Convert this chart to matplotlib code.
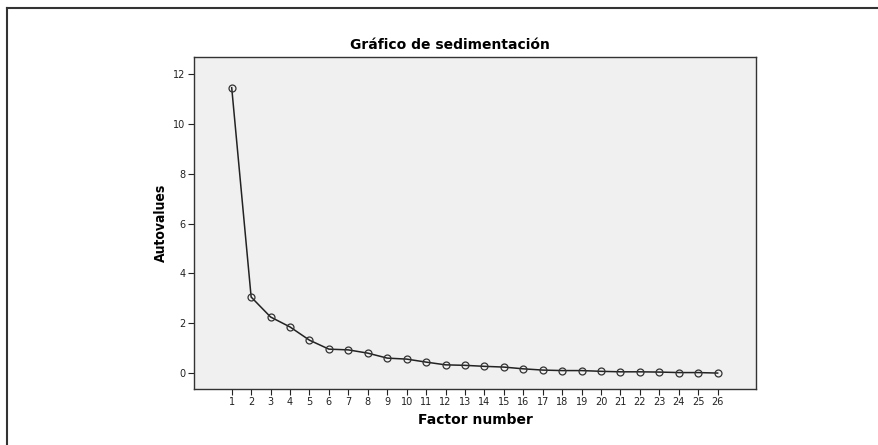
import matplotlib
matplotlib.use("Agg")
import matplotlib.pyplot as plt
from matplotlib.lines import Line2D

# Scree plot data (eigenvalues per factor)
factors = list(range(1, 27))
eigenvalues = [11.45, 3.05, 2.25, 1.85, 1.32, 0.96, 0.93, 0.80, 0.60, 0.56,
               0.44, 0.33, 0.31, 0.27, 0.24, 0.17, 0.12, 0.10, 0.10, 0.07,
               0.05, 0.05, 0.04, 0.02, 0.02, 0.00]
y_ticks = [0, 2, 4, 6, 8, 10, 12]

fig = plt.figure(figsize=(8.79, 4.45), dpi=100)
ax = fig.add_axes([0.2207, 0.1258, 0.6393, 0.7461])

ax.set_facecolor("#f0f0f0")
ax.plot(factors, eigenvalues, color="#222222", linewidth=1.1,
        marker="o", markersize=5, markerfacecolor="none",
        markeredgecolor="#333333", markeredgewidth=0.9)

ax.set_xlim(-0.94, 27.97)
ax.set_ylim(-0.64, 12.68)
ax.set_xticks(factors)
ax.set_yticks(y_ticks)
ax.tick_params(axis="both", direction="out", length=4, width=0.8,
               labelsize=7, colors="#222222", pad=2)

for s in ax.spines.values():
    s.set_color("#333333")
    s.set_linewidth(1.0)

# title sits a bit left of the axes centre in the original
fig.text(450 / 879, 1 - 45 / 445, "Gráfico de sedimentación", fontsize=10,
         fontweight="bold", ha="center", va="center")
ax.set_xlabel("Factor number", fontsize=10, fontweight="bold", labelpad=4)
ax.set_ylabel("Autovalues", fontsize=10, fontweight="bold",
              fontstretch="condensed", labelpad=4)

# outer frame (top and left edges)
fig.add_artist(Line2D([7 / 879, 1.0], [1 - 8 / 445, 1 - 8 / 445],
                      transform=fig.transFigure, color="#333333", linewidth=1.5))
fig.add_artist(Line2D([7 / 879, 7 / 879], [0.0, 1 - 8 / 445],
                      transform=fig.transFigure, color="#333333", linewidth=1.5))

fig.savefig("out.png", dpi=100)
